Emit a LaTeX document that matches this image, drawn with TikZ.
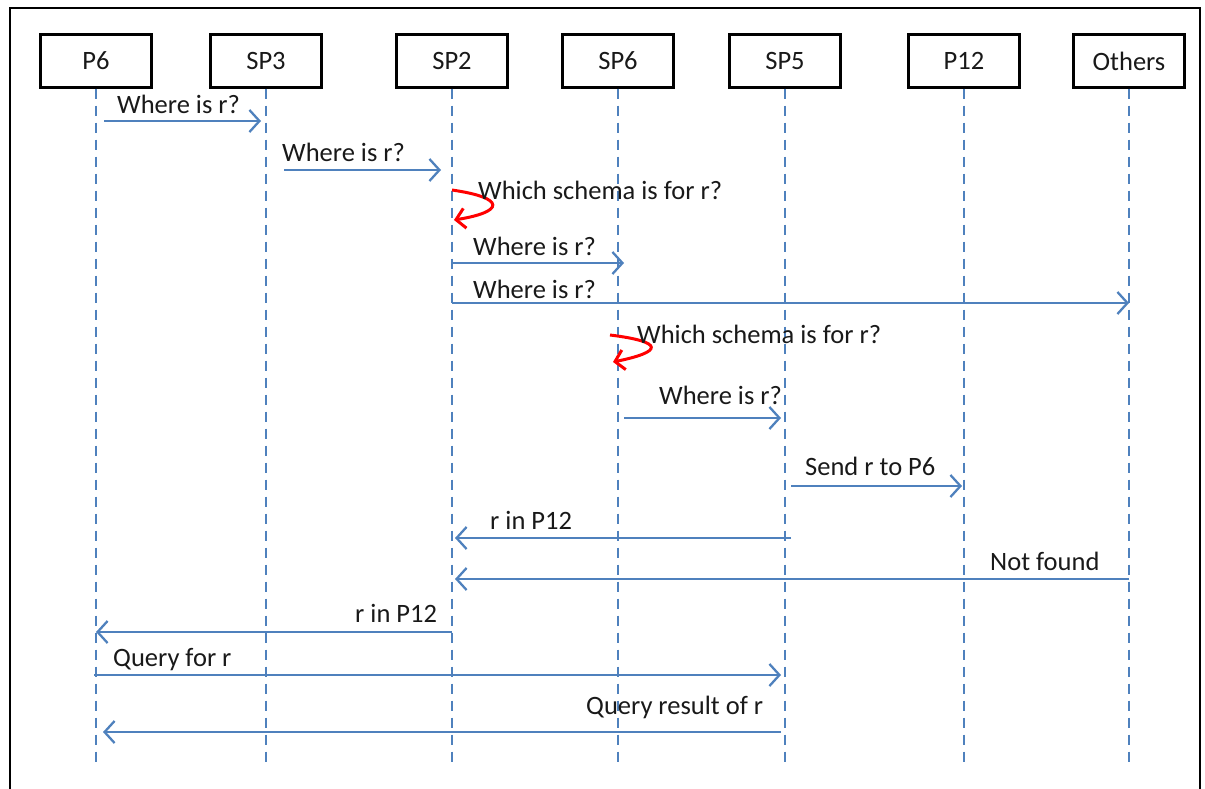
\documentclass[tikz,border=0pt]{standalone}
\usepackage{fontspec}
\setmainfont{Carlito}
\usetikzlibrary{arrows.meta,positioning}
\definecolor{msgblue}{HTML}{4F81BD}
\definecolor{loopred}{HTML}{FF0000}
\tikzset{
	actor/.style={draw=black,line width=2.4pt,fill=white,minimum width=111pt,minimum height=53pt,inner sep=0pt,font=\fontsize{26.5}{30}\selectfont,text=black!90},
	lifeline/.style={draw=msgblue,line width=2.2pt,dash pattern=on 10pt off 7pt},
	msg/.style={draw=msgblue,line width=2.3pt,-{Straight Barb[length=10pt,width=22pt,line width=2.3pt]}},
	selfloop/.style={draw=loopred,line width=3pt,-{Straight Barb[length=9pt,width=20pt,line width=3pt]}},
	lbl/.style={anchor=west,inner sep=0pt,font=\fontsize{26.5}{30}\selectfont,text=black!90}
}
\begin{document}
\begin{tikzpicture}[x=1pt,y=-1pt]
	\useasboundingbox (0,0) rectangle (1205,789);
	% frame
	\draw[line width=2.6pt] (10,800) -- (10,8) -- (1200,8) -- (1200,800);
	% actors
	\node[actor] (p6)     at (96,61)   {P6};
	\node[actor] (sp3)    at (266,61)  {SP3};
	\node[actor] (sp2)    at (452,61)  {SP2};
	\node[actor] (sp6)    at (618,61)  {SP6};
	\node[actor] (sp5)    at (785,61)  {SP5};
	\node[actor] (p12)    at (964,61)  {P12};
	\node[actor] (others) at (1129,61) {Others};
	\coordinate (bottom) at (0,762);
	\foreach \a in {p6,sp3,sp2,sp6,sp5,p12,others}
		\draw[lifeline] (\a.south) -- (\a |- bottom);
	% message rows
	\coordinate (r1) at (0,121);
	\coordinate (r2) at (0,170);
	\coordinate (r4) at (0,263);
	\coordinate (r5) at (0,303);
	\coordinate (r7) at (0,418);
	\coordinate (r8) at (0,486);
	\coordinate (r9) at (0,538);
	\coordinate (r10) at (0,579);
	\coordinate (r11) at (0,632);
	\coordinate (r12) at (0,675);
	\coordinate (r13) at (0,732);
	\draw[msg] ([xshift=8pt]p6 |- r1) -- ([xshift=-5pt]sp3 |- r1);
	\draw[msg] ([xshift=18pt]sp3 |- r2) -- ([xshift=-11pt]sp2 |- r2);
	\draw[selfloop] (sp2 |- 0,190) .. controls (507,198) and (504,212) .. ([xshift=2pt]sp2 |- 0,220);
	\draw[msg] (sp2 |- r4) -- ([xshift=6pt]sp6 |- r4);
	\draw[msg] (sp2 |- r5) -- (others |- r5);
	\draw[selfloop] ([xshift=-8pt]sp6 |- 0,335) .. controls (666,342) and (662,352) .. ([xshift=-5pt]sp6 |- 0,362);
	\draw[msg] ([xshift=6pt]sp6 |- r7) -- ([xshift=-4pt]sp5 |- r7);
	\draw[msg] ([xshift=6pt]sp5 |- r8) -- ([xshift=-2pt]p12 |- r8);
	\draw[msg] ([xshift=6pt]sp5 |- r9) -- ([xshift=3pt]sp2 |- r9);
	\draw[msg] (others |- r10) -- ([xshift=3pt]sp2 |- r10);
	\draw[msg] (sp2 |- r11) -- (p6 |- r11);
	\draw[msg] ([xshift=-2pt]p6 |- r12) -- ([xshift=-4pt]sp5 |- r12);
	\draw[msg] ([xshift=-4pt]sp5 |- r13) -- ([xshift=7pt]p6 |- r13);
	% labels
	\node[lbl] (l1)  at (117,104) {Where is r?};
	\node[lbl] (l2)  at (282,152) {Where is r?};
	\node[lbl] (l3)  at (478,190) {Which schema is for r?};
	\node[lbl] (l4)  at (473,246) {Where is r?};
	\node[lbl] (l5)  at (473,289) {Where is r?};
	\node[lbl] (l6)  at (637,334) {Which schema is for r?};
	\node[lbl] (l7)  at (659,395) {Where is r?};
	\node[lbl] (l8)  at (805,466) {Send r to P6};
	\node[lbl] (l9)  at (490,520) {r in P12};
	\node[lbl] (l10) at (990,561) {Not found};
	\node[lbl] (l11) at (355,613) {r in P12};
	\node[lbl] (l12) at (113,660) {Query for r};
	\node[lbl] (l13) at (586,707) {Query result of r};
\end{tikzpicture}
\end{document}
